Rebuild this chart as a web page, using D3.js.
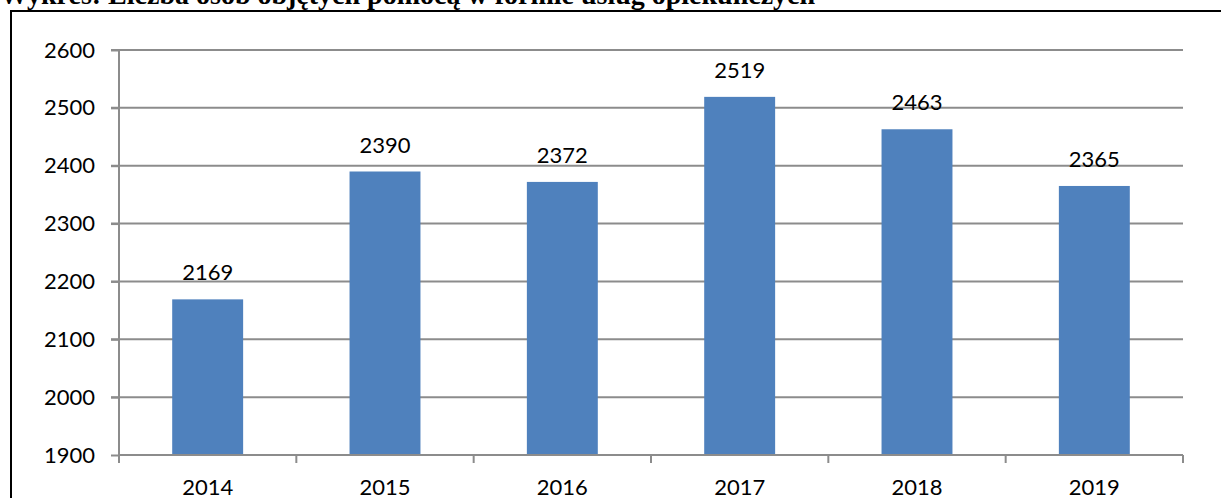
<!DOCTYPE html>
<html>
<head>
  <meta charset="utf-8">
  <title>Wykres</title>
  <script src="https://cdn.jsdelivr.net/npm/d3@7"></script>
  <style>
    body { margin: 0; background: #ffffff; }
    .title { font-family: "Liberation Serif", serif; font-weight: bold; font-size: 28px; fill: #000; }
    .axis text, .label { font-family: Lato, sans-serif; font-size: 22px; fill: #000; }
    .axis path, .axis line, .grid line { stroke: #8c8c8c; stroke-width: 2; }
    .bar { fill: #4f81bd; }
  </style>
</head>
<body>
<script>
  // data
  var years = ["2014", "2015", "2016", "2017", "2018", "2019"];
  var values = [2169, 2390, 2372, 2519, 2463, 2365];
  var yTicks = [1900, 2000, 2100, 2200, 2300, 2400, 2500, 2600];

  var width = 1221, height = 498;
  var plotLeft = 119, plotRight = 1183, plotTop = 50, plotBottom = 455;

  var svg = d3.select("body").append("svg")
      .attr("width", width)
      .attr("height", height);

  // frame
  svg.append("path")
      .attr("d", "M11," + height + " V11 H" + width)
      .attr("fill", "none")
      .attr("stroke", "#000")
      .attr("stroke-width", 2);

  // title (cut off at the top, as in the source page)
  svg.append("text")
      .attr("class", "title")
      .attr("x", 0)
      .attr("y", 4)
      .text("Wykres: Liczba osób objętych pomocą w formie usług opiekuńczych");

  var x = d3.scaleBand().domain(years).range([plotLeft, plotRight]).paddingInner(0.6).paddingOuter(0.3);
  var band = d3.scaleBand().domain(years).range([plotLeft, plotRight]);
  var y = d3.scaleLinear().domain([1900, 2600]).range([plotBottom, plotTop]);

  // grid lines
  svg.append("g").attr("class", "grid")
    .selectAll("line").data(yTicks.slice(1)).enter().append("line")
      .attr("x1", plotLeft - 8).attr("x2", plotRight)
      .attr("y1", function(d) { return y(d); })
      .attr("y2", function(d) { return y(d); });

  // y axis
  svg.append("g")
      .attr("class", "axis")
      .attr("transform", "translate(" + plotLeft + ",0)")
      .call(d3.axisLeft(y).tickValues(yTicks).tickSize(8).tickSizeOuter(0).tickPadding(16).tickFormat(d3.format("d")))
      .select(".domain").remove();
  svg.append("line")
      .attr("x1", plotLeft).attr("x2", plotLeft).attr("y1", plotTop).attr("y2", plotBottom)
      .attr("stroke", "#8c8c8c").attr("stroke-width", 2);

  // bars
  svg.selectAll(".bar").data(values).enter().append("rect")
      .attr("class", "bar")
      .attr("x", function(d, i) { return x(years[i]); })
      .attr("width", x.bandwidth())
      .attr("y", function(d) { return y(d); })
      .attr("height", function(d) { return plotBottom - y(d); });

  // value labels
  svg.selectAll(".label").data(values).enter().append("text")
      .attr("class", "label")
      .attr("text-anchor", "middle")
      .attr("x", function(d, i) { return x(years[i]) + x.bandwidth() / 2; })
      .attr("y", function(d) { return y(d) - 19; })
      .text(function(d) { return d; });

  // x axis
  var xAxis = svg.append("g").attr("class", "axis");
  xAxis.append("line")
      .attr("x1", plotLeft).attr("x2", plotRight).attr("y1", plotBottom).attr("y2", plotBottom);
  xAxis.selectAll(".tk").data(years.concat(["end"])).enter().append("line")
      .attr("x1", function(d, i) { return plotLeft + i * band.bandwidth(); })
      .attr("x2", function(d, i) { return plotLeft + i * band.bandwidth(); })
      .attr("y1", plotBottom).attr("y2", plotBottom + 8);
  xAxis.selectAll(".yl").data(years).enter().append("text")
      .attr("text-anchor", "middle")
      .attr("x", function(d) { return band(d) + band.bandwidth() / 2; })
      .attr("y", plotBottom + 40)
      .text(function(d) { return d; });
</script>
</body>
</html>
